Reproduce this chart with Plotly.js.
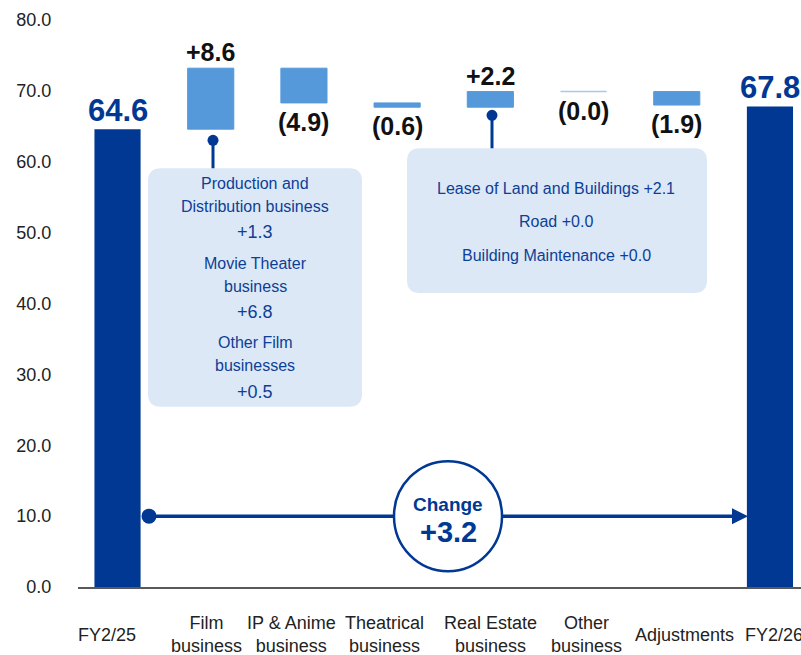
<!DOCTYPE html>
<html>
<head>
<meta charset="utf-8">
<script src="https://cdn.plot.ly/plotly-3.0.1.min.js"></script>
<style>html,body{margin:0;padding:0;background:#fff;}#chart{width:801px;height:655px;}</style>
</head>
<body>
<div id="chart"></div>
<script>
// ---------------- data ----------------
const categories = ['FY2/25', 'Film<br>business', 'IP & Anime<br>business', 'Theatrical<br>business',
                    'Real Estate<br>business', 'Other<br>business', 'Adjustments', 'FY2/26'];
const values   = [64.6, 8.6, -4.9, -0.6, 2.2, 0.0, -1.9, 67.8];
const measures = ['absolute', 'relative', 'relative', 'relative', 'relative', 'relative', 'relative', 'absolute'];
const valueLabels = ['64.6', '+8.6', '(4.9)', '(0.6)', '+2.2', '(0.0)', '(1.9)', '67.8'];
const yTickVals = [0, 10, 20, 30, 40, 50, 60, 70, 80];

const filmNames  = [['Production and', 'Distribution business'], ['Movie Theater', 'business'], ['Other Film', 'businesses']];
const filmValues = ['+1.3', '+6.8', '+0.5'];
const realEstateLines = ['Lease of Land and Buildings +2.1', 'Road +0.0', 'Building Maintenance +0.0'];
const changeLabel = 'Change';
const changeValue = '+3.2';

// ---------------- style ----------------
const W = 801, H = 655;
const M = {l: 78, r: 0, t: 19.5, b: 67.5};
const XR = [-0.424, 7.333], YR = [0, 80];
const FONT = 'Liberation Sans, Arial, sans-serif';
const DARK = '#003893', LIGHT = '#5599db', ZERO = '#a9c9ec', BOXFILL = '#dce8f6', TXTBLUE = '#0d3f96';
const xLabelShift = [-11, -4, -12, -13, 0, 3, 8, 4];
const BARGAP = 0.505;

const plotW = W - M.l - M.r, plotH = H - M.t - M.b;
const xpx = plotW / (XR[1] - XR[0]), ypx = plotH / (YR[1] - YR[0]);
const px2x = p => XR[0] + (p - M.l) / xpx;
const py2y = p => YR[0] + (H - M.b - p) / ypx;

// cumulative levels
const ends = [];
let run = 0;
values.forEach((v, i) => {
  if (measures[i] === 'absolute') run = v; else run += v;
  ends.push(run);
});

const trace = {
  type: 'waterfall',
  x: categories.map((c, i) => i),
  y: values,
  measure: measures,
  connector: {visible: false},
  increasing: {marker: {color: LIGHT, line: {color: LIGHT, width: 1}}},
  decreasing: {marker: {color: LIGHT, line: {color: LIGHT, width: 1}}},
  totals: {marker: {color: DARK, line: {width: 0}}},
  textinfo: 'none',
  hoverinfo: 'skip'
};

const annotations = [];
values.forEach((v, i) => {
  const isTotal = measures[i] === 'absolute';
  const up = isTotal || v > 0;
  annotations.push({
    x: i, y: ends[i], xref: 'x', yref: 'y',
    text: '<b>' + valueLabels[i] + '</b>',
    showarrow: false,
    yanchor: up ? 'bottom' : 'top',
    yshift: up ? (isTotal ? -1 : 0) : -3,
    font: {family: FONT, size: isTotal ? 31 : 25, color: isTotal ? DARK : '#111'}
  });
});
categories.forEach((c, i) => {
  annotations.push({
    x: i, y: 0, xref: 'x', yref: 'paper', text: c, showarrow: false,
    yanchor: 'middle', yshift: -(635 - (H - M.b)), xshift: xLabelShift[i],
    font: {family: FONT, size: 18, color: '#222'}
  });
});
const boxTxt = (x, py, t, size) => annotations.push({
  x: x, y: py2y(py), xref: 'x', yref: 'y', text: t, showarrow: false,
  yanchor: 'middle', font: {family: FONT, size: size, color: TXTBLUE}
});
const box1 = {x0: 148, x1: 362, y0: 168, y1: 407};
const box2 = {x0: 407, x1: 707, y0: 148, y1: 293};
let py = 183;
filmNames.forEach((names, g) => {
  names.forEach(n => { boxTxt(px2x((box1.x0 + box1.x1) / 2), py, n, 16); py += 23; });
  py += 3;
  boxTxt(px2x((box1.x0 + box1.x1) / 2), py, filmValues[g], 18);
  py += 31;
});
realEstateLines.forEach((t, k) => boxTxt(px2x((box2.x0 + box2.x1) / 2 - 1), 188 + k * 33.5, t, 16));

const midX = px2x(448), arrowY = 10;
annotations.push({x: midX, y: arrowY, xref: 'x', yref: 'y', yshift: 12, text: '<b>' + changeLabel + '</b>',
  showarrow: false, yanchor: 'middle', font: {family: FONT, size: 19, color: DARK}});
annotations.push({x: midX, y: arrowY, xref: 'x', yref: 'y', yshift: -16, text: '<b>' + changeValue + '</b>',
  showarrow: false, yanchor: 'middle', font: {family: FONT, size: 29, color: DARK}});

function rrect(b, r) {
  const x0 = px2x(b.x0), x1 = px2x(b.x1), y0 = py2y(b.y1), y1 = py2y(b.y0);
  const rx = r / xpx, ry = r / ypx;
  return `M${x0 + rx},${y1} L${x1 - rx},${y1} Q${x1},${y1} ${x1},${y1 - ry} L${x1},${y0 + ry} Q${x1},${y0} ${x1 - rx},${y0} ` +
         `L${x0 + rx},${y0} Q${x0},${y0} ${x0},${y0 + ry} L${x0},${y1 - ry} Q${x0},${y1} ${x0 + rx},${y1} Z`;
}
const dot = (x, y, r, color) => ({type: 'circle', xref: 'x', yref: 'y', xsizemode: 'pixel', ysizemode: 'pixel',
  xanchor: x, yanchor: y, x0: -r, x1: r, y0: -r, y1: r, fillcolor: color, line: {width: 0}});
const startX = px2x(149), endX = px2x(733);
const shapes = [
  {type: 'path', path: rrect(box1, 13), fillcolor: BOXFILL, line: {width: 0}, layer: 'below'},
  {type: 'path', path: rrect(box2, 13), fillcolor: BOXFILL, line: {width: 0}, layer: 'below'},
  {type: 'line', xref: 'x', yref: 'y', x0: px2x(213), x1: px2x(213), y0: py2y(140), y1: py2y(box1.y0), line: {color: DARK, width: 3}},
  dot(px2x(213), py2y(140), 5.5, DARK),
  {type: 'line', xref: 'x', yref: 'y', x0: px2x(492), x1: px2x(492), y0: py2y(115), y1: py2y(box2.y0), line: {color: DARK, width: 3}},
  dot(px2x(492), py2y(115), 5.5, DARK),
  {type: 'line', xref: 'x', yref: 'y', x0: startX, x1: endX, y0: arrowY, y1: arrowY, line: {color: DARK, width: 3.5}},
  dot(startX, arrowY, 7.5, DARK),
  {type: 'path', xref: 'x', yref: 'y', xsizemode: 'pixel', ysizemode: 'pixel', xanchor: endX, yanchor: arrowY,
   path: 'M-1,8 L15,0 L-1,-8 Z', fillcolor: DARK, line: {width: 0}},
  {type: 'circle', xref: 'x', yref: 'y', xsizemode: 'pixel', ysizemode: 'pixel', xanchor: midX, yanchor: arrowY,
   x0: -54, x1: 54, y0: -55, y1: 55, fillcolor: '#ffffff', line: {color: DARK, width: 2.5}}
];
// zero-change steps drawn as a thin line at their level
values.forEach((v, i) => {
  if (measures[i] === 'relative' && v === 0) {
    const hw = (1 - BARGAP) / 2;
    shapes.push({type: 'line', xref: 'x', yref: 'y', x0: i - hw, x1: i + hw, y0: ends[i], y1: ends[i],
                 line: {color: ZERO, width: 1.5}});
  }
});

const layout = {
  width: W, height: H, margin: M,
  paper_bgcolor: '#fff', plot_bgcolor: 'rgba(0,0,0,0)',
  showlegend: false,
  waterfallgap: BARGAP,
  xaxis: {range: XR, type: 'linear', showticklabels: false, ticks: '', showgrid: false, zeroline: false,
          showline: true, linecolor: '#595959', linewidth: 2, fixedrange: true},
  yaxis: {range: YR, tickvals: yTickVals, tickformat: '.1f', ticks: 'outside', ticklen: 22,
          tickcolor: 'rgba(0,0,0,0)', showgrid: false, zeroline: false, showline: false,
          tickfont: {family: FONT, size: 18, color: '#222'}, fixedrange: true},
  annotations: annotations,
  shapes: shapes
};

Plotly.newPlot('chart', [trace], layout, {displayModeBar: false, staticPlot: true});
</script>
</body>
</html>
